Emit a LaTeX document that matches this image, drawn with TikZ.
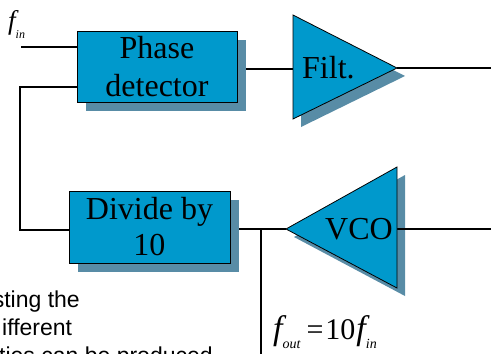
\documentclass[tikz,border=0pt]{standalone}
\usepackage{fontspec}
\setmainfont{Liberation Serif}
\newfontfamily\sansf{Liberation Sans}
\definecolor{boxblue}{RGB}{0,153,204}
\definecolor{shadowc}{RGB}{88,140,166}
\pgfdeclarelayer{tshadow}
\pgfdeclarelayer{wires}
\pgfdeclarelayer{bshadow}
\pgfsetlayers{tshadow,wires,bshadow,main}
\tikzset{
  block/.style={draw=black, line width=0.8pt, fill=boxblue, inner sep=0pt, align=center},
  tri/.style={draw=black, line width=0.8pt, fill=boxblue, line join=miter},
  shad/.style={fill=shadowc, draw=none},
  wire/.style={line width=1.3pt, draw=black},
  lbl/.style={inner sep=0pt, font=\fontsize{32}{32}\selectfont},
  btext/.style={inner sep=0pt, font=\sansf\fontsize{23}{23}\selectfont}
}
\begin{document}
\begin{tikzpicture}[x=1pt,y=-1pt]
\useasboundingbox (0,0) rectangle (491,354);
\clip (0,0) rectangle (491,354);

% blocks
\node[block, minimum width=160pt, minimum height=71pt, font=\fontsize{32}{38}\selectfont] (pd) at (157,66.5) {Phase\\detector};
\node[block, minimum width=161pt, minimum height=72pt, font=\fontsize{32}{36}\selectfont] (div) at (149.5,227) {Divide by\\10};

% triangles
\coordinate (fa) at (293,15);
\coordinate (fb) at (293,119);
\coordinate (ftip) at (397,68);
\coordinate (filtin) at (293,69);
\draw[tri] (fa) -- (ftip) -- (fb) -- cycle;
\node[lbl, anchor=base west] (filtlbl) at (302,78) {Filt.};

\coordinate (va) at (397,167);
\coordinate (vb) at (397,288);
\coordinate (vtip) at (286,229);
\coordinate (vback) at (397,229);
\draw[tri] (va) -- (vtip) -- (vb) -- cycle;
\node[lbl, anchor=base west] (vcolbl) at (325,239) {VCO};

% shadows
\begin{pgfonlayer}{bshadow}
  \fill[shad] (86,40) rectangle (246,111);
  \fill[shad] (78,200) rectangle (239,272);
\end{pgfonlayer}
\begin{pgfonlayer}{tshadow}
  \fill[shad] ([shift={(8,8)}]fa) -- ([shift={(8,8)}]ftip) -- ([shift={(8,8)}]fb) -- cycle;
  \fill[shad] ([shift={(8,8)}]va) -- ([shift={(8,8)}]vtip) -- ([shift={(8,8)}]vb) -- cycle;
\end{pgfonlayer}

% connection points
\coordinate (fin) at (21,47);
\coordinate (fbtop) at (20,87);
\coordinate (fbbot) at (20,230);
\coordinate (rt1) at (491,68);
\coordinate (rt2) at (491,229);
\coordinate (tap) at (261,229);
\coordinate (bot) at (261,354);

\begin{pgfonlayer}{wires}
  \draw[wire] (fin) -- (fin -| pd.west);
  \draw[wire] (fbtop -| pd.west) -- (fbtop) -- (fbbot) -- (fbbot -| div.west);
  \draw[wire] (filtin -| pd.east) -- (filtin);
  \draw[wire] (ftip) -- (rt1);
  \draw[wire] (vtip -| div.east) -- (vtip);
  \draw[wire] (vback) -- (rt2);
  \draw[wire] (tap) -- (bot);
\end{pgfonlayer}

% labels
\node[inner sep=0pt, anchor=base west] (finlbl) at (8,29)
  {\fontsize{27}{27}\selectfont\itshape f\raisebox{-9pt}{\fontsize{12}{12}\selectfont in}};
\node[inner sep=0pt, anchor=base west] (foutlbl) at (273,339)
  {\fontsize{34}{34}\selectfont\itshape f\raisebox{-9pt}{\fontsize{14}{14}\selectfont out}\hspace{6pt}\fontsize{30}{30}\selectfont\upshape =\hspace{2pt}10\hspace{1pt}\fontsize{34}{34}\selectfont\itshape f\raisebox{-9pt}{\fontsize{14}{14}\selectfont in}};

% bottom-left text (clipped)
\node[btext, anchor=base east] (t1) at (80,307) {sting the};
\node[btext, anchor=base west] (t2) at (2,335) {ifferent};
\node[btext, anchor=base west] (t3) at (-1,363) {ties can be produced};
\end{tikzpicture}
\end{document}
